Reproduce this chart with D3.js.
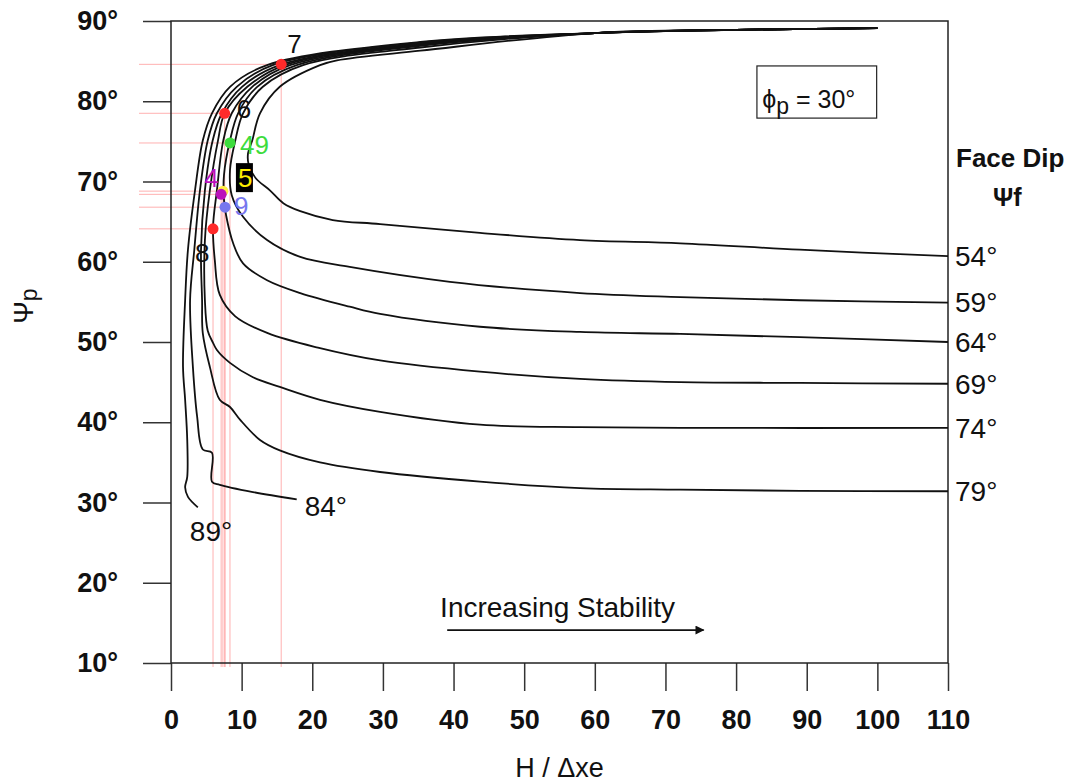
<!DOCTYPE html>
<html>
<head>
  <meta charset="utf-8">
  <title>Plane failure stability chart</title>
  <script src="https://d3js.org/d3.v7.min.js"></script>
  <style>
    body {
      margin: 0;
      background: #ffffff;
      font-family: "Liberation Sans", Arial, sans-serif;
    }
    .axis text {
      font-size: 27px;
      font-weight: 700;
      fill: #111;
    }
    .axis line {
      stroke: #333;
      stroke-width: 1.5;
    }
    .curve {
      fill: none;
      stroke: #111;
      stroke-width: 1.8;
    }
    .ref {
      stroke: #ffb0b0;
      stroke-width: 1;
    }
  </style>
</head>
<body>
  <div id="chart"></div>

  <script>
    // x = H / dxe, y = plane dip (deg)
    const xTicks = [0, 10, 20, 30, 40, 50, 60, 70, 80, 90, 100, 110];
    const yTicks = [10, 20, 30, 40, 50, 60, 70, 80, 90];

    // face dips, outermost curve first
    const faceDips = [89, 84, 79, 74, 69, 64, 59, 54];

    // shared upper end of every curve
    const topTail = [[100, 89.1], [80, 88.9], [60, 88.5]];

    const curve89 = [[35.3, 87.4], [13.6, 84.5], [8.35, 81.8], [5.8, 78.5], [4.5, 75.1], [3.4, 68.9],
      [2.4, 61.5], [2.0, 55.2], [1.7, 46.9], [2.0, 42.8], [2.3, 37.8], [2.3, 33.2], [2.0, 31.9],
      [2.4, 30.7], [3.8, 29.4]];
    const curve84 = [[35.3, 87.3], [14.4, 84.5], [9.3, 81.8], [6.5, 78.5], [5.2, 75.1], [4.1, 68.9],
      [3.3, 61.5], [2.7, 55.2], [3.1, 46.9], [3.7, 40.7], [4.5, 36.6], [5.8, 36.2], [5.8, 32.6],
      [6.9, 32.2], [11.6, 31.3], [17.8, 30.4]];
    const curve79 = [[35.3, 87.2], [15.4, 84.5], [10.05, 81.8], [7.2, 78.5], [5.9, 75.1], [4.8, 68.9],
      [4.25, 61.5], [4.4, 55.2], [4.5, 51.1], [5.5, 46.9], [6.9, 42.8], [8.35, 41.9], [9.8, 40.3],
      [12.6, 37.8], [15.4, 36.5], [21.1, 35.0], [29.6, 33.8], [43.75, 32.6], [57.9, 31.8],
      [72.1, 31.6], [89, 31.45], [110, 31.4]];
    const curve74 = [[35.3, 87.1], [16.1, 84.5], [10.8, 81.8], [7.6, 78.5], [6.65, 75.1], [5.5, 68.9],
      [4.8, 62.7], [4.8, 55.2], [5.2, 51.4], [5.95, 49.9], [6.5, 49.0], [8.35, 47.4], [11.6, 45.6],
      [15.4, 44.4], [21.1, 42.8], [29.6, 41.3], [43.75, 39.7], [57.9, 39.4], [72.1, 39.3],
      [110, 39.3]];
    const curve69 = [[35.3, 87.0], [16.85, 84.5], [11.5, 81.8], [8.6, 78.5], [7.4, 75.1], [6.5, 68.9],
      [5.95, 64.3], [6.2, 60.2], [6.9, 55.9], [9.1, 53.2], [13.7, 51.1], [20.8, 49.3], [29.6, 47.7],
      [43.75, 46.3], [57.9, 45.4], [72.1, 45.0], [89, 44.9], [110, 44.8]];
    const curve64 = [[35.3, 86.9], [17.8, 84.5], [12.2, 81.8], [9.5, 78.5], [8.35, 75.1], [7.5, 70.8],
      [7.5, 67.7], [7.8, 65.8], [8.8, 62.3], [10.2, 59.8], [13.6, 57.7], [18.3, 56.1], [25.3, 54.4],
      [29.6, 53.5], [43.75, 51.9], [57.9, 51.25], [72.1, 51.0], [89, 50.6], [110, 50.0]];
    const curve59 = [[35.3, 86.7], [18.7, 84.5], [13.0, 81.8], [10.2, 78.5], [9.1, 75.1], [8.35, 71.4],
      [8.6, 68.3], [10.2, 65.6], [13.6, 62.7], [18.3, 60.6], [25.3, 59.35], [39.5, 57.5],
      [57.9, 56.1], [72.1, 55.6], [89, 55.2], [110, 54.9]];
    const curve54 = [[35.3, 86.3], [23.5, 85.1], [21.1, 84.5], [15.4, 81.8], [12.6, 78.5], [11.5, 75.1],
      [10.9, 73.5], [11.0, 72.1], [12.0, 70.4], [14.0, 68.9], [15.9, 67.3], [18.3, 66.3], [22.9, 65.2],
      [29.6, 64.7], [43.75, 63.6], [57.9, 62.7], [72.1, 62.3], [89, 61.5], [110, 60.7]];

    const curves = [curve89, curve84, curve79, curve74, curve69, curve64, curve59, curve54];

    // marked cases
    const caseLabels = ['7', '6', '49', '5', '4', '9', '8'];
    const caseX = [15.6, 7.6, 8.35, 7.35, 7.1, 7.65, 5.95];
    const caseY = [84.6, 78.5, 74.8, 68.8, 68.4, 66.8, 64.1];

    const caseStyle = {
      '7':  { fill: '#ff2a2a', text: '#111', dx: 6,   dy: -11 },
      '6':  { fill: '#ff2a2a', text: '#111', dx: 12,  dy: 5 },
      '49': { fill: '#3ddc3d', text: '#3ddc3d', dx: 10, dy: 11 },
      '5':  { fill: '#ffee44', text: '#ffee00', dx: 15, dy: -4, box: true },
      '4':  { fill: '#bb11bb', text: '#bb11bb', dx: -17, dy: -7 },
      '9':  { fill: '#7777ee', text: '#7777ee', dx: 9,  dy: 8 },
      '8':  { fill: '#ff2a2a', text: '#111', dx: -18, dy: 33 }
    };

    const width = 1075, height = 783;
    const x = d3.scaleLinear().domain([0, 110]).range([171, 948]);
    const y = d3.scaleLinear().domain([10, 90]).range([663, 21]);

    const svg = d3.select('#chart').append('svg')
      .attr('width', width)
      .attr('height', height)
      .style('font-family', '"Liberation Sans", Arial, sans-serif');

    // pink reference lines for each case
    const cases = caseLabels.map((c, i) => ({ label: c, x: caseX[i], y: caseY[i] }));
    const refs = svg.append('g');
    cases.forEach(d => {
      refs.append('line').attr('class', 'ref')
        .attr('x1', x.range()[0] - 32).attr('x2', x(d.x))
        .attr('y1', y(d.y)).attr('y2', y(d.y));
      refs.append('line').attr('class', 'ref')
        .attr('x1', x(d.x)).attr('x2', x(d.x))
        .attr('y1', y(d.y)).attr('y2', y.range()[0] + 4);
    });

    // axes
    svg.append('g')
      .attr('class', 'axis')
      .attr('transform', `translate(0,${y.range()[0]})`)
      .call(d3.axisBottom(x).tickValues(xTicks).tickSize(28).tickSizeOuter(0).tickPadding(19))
      .call(g => g.select('.domain').remove());

    svg.append('g')
      .attr('class', 'axis')
      .attr('transform', `translate(${x.range()[0]},0)`)
      .call(d3.axisLeft(y).tickValues(yTicks).tickSize(28).tickSizeOuter(0).tickPadding(25)
        .tickFormat(d => d + '°'))
      .call(g => g.select('.domain').remove());

    // frame
    svg.append('rect')
      .attr('x', x(0)).attr('y', y(90))
      .attr('width', x(110) - x(0)).attr('height', y(10) - y(90))
      .attr('fill', 'none').attr('stroke', '#222').attr('stroke-width', 1.5);

    // curves
    const line = d3.line()
      .x(d => x(d[0]))
      .y(d => y(d[1]))
      .curve(d3.curveCatmullRom.alpha(0.5));

    svg.append('g').selectAll('path')
      .data(curves)
      .join('path')
      .attr('class', 'curve')
      .attr('d', d => line(topTail.concat(d)));

    // face dip labels
    const labelG = svg.append('g').style('font-size', '28px').attr('fill', '#111');
    curves.forEach((c, i) => {
      const last = c[c.length - 1];
      let lx = x(last[0]) + 7, ly = y(last[1]);
      if (faceDips[i] === 84) { lx = x(last[0]) + 8; ly = y(last[1]) + 7; }
      if (faceDips[i] === 89) { lx = x(last[0]) - 8; ly = y(last[1]) + 24; }
      labelG.append('text')
        .attr('x', lx).attr('y', ly).attr('dy', '0.35em')
        .text(faceDips[i] + '°');
    });

    // case points and labels
    const caseG = svg.append('g');
    cases.forEach(d => {
      const s = caseStyle[d.label];
      caseG.append('circle')
        .attr('cx', x(d.x)).attr('cy', y(d.y))
        .attr('r', 5.5).attr('fill', s.fill);
    });
    cases.forEach(d => {
      const s = caseStyle[d.label];
      const tx = x(d.x) + s.dx, ty = y(d.y) + s.dy;
      if (s.box) {
        caseG.append('rect')
          .attr('x', tx - 2).attr('y', ty - 24)
          .attr('width', 17).attr('height', 29)
          .attr('fill', '#000');
      }
      caseG.append('text')
        .attr('x', tx).attr('y', ty)
        .attr('fill', s.text)
        .style('font-size', '26px')
        .text(d.label);
    });

    // legend box
    const lg = svg.append('g');
    lg.append('rect')
      .attr('x', x(82.95)).attr('y', y(84.4))
      .attr('width', x(99.9) - x(82.95)).attr('height', y(77.9) - y(84.4))
      .attr('fill', '#fff').attr('stroke', '#222').attr('stroke-width', 1.2);
    const lt = lg.append('text')
      .attr('x', x(83.7)).attr('y', y(79.1))
      .style('font-size', '25px').attr('fill', '#111');
    lt.append('tspan').text('ϕ');
    lt.append('tspan').attr('dy', 6).style('font-size', '23px').text('p');
    lt.append('tspan').attr('dy', -6).text(' = 30°');

    // right side heading
    svg.append('text')
      .attr('x', x(110) + 8).attr('y', 167)
      .style('font-size', '26px').style('font-weight', 700).attr('fill', '#111')
      .text('Face Dip');
    const psf = svg.append('text')
      .attr('x', x(110) + 45).attr('y', 206)
      .style('font-size', '25px').style('font-weight', 700).attr('fill', '#111');
    psf.append('tspan').text('Ψ');
    psf.append('tspan').text('f');

    // stability arrow
    svg.append('defs').append('marker')
      .attr('id', 'arrow').attr('viewBox', '0 0 10 10')
      .attr('refX', 9).attr('refY', 5)
      .attr('markerWidth', 12).attr('markerHeight', 9)
      .attr('markerUnits', 'userSpaceOnUse')
      .attr('orient', 'auto')
      .append('path').attr('d', 'M0,0 L10,5 L0,10 Z').attr('fill', '#111');
    svg.append('text')
      .attr('x', x(38.1)).attr('y', y(15.7))
      .style('font-size', '28px').attr('fill', '#111')
      .text('Increasing Stability');
    svg.append('line')
      .attr('x1', x(39.1)).attr('x2', x(75.4))
      .attr('y1', y(14.1)).attr('y2', y(14.1))
      .attr('stroke', '#111').attr('stroke-width', 1.8)
      .attr('marker-end', 'url(#arrow)');

    // axis titles
    svg.append('text')
      .attr('x', (x(0) + x(110)) / 2).attr('y', 777)
      .attr('text-anchor', 'middle')
      .style('font-size', '27px').attr('fill', '#111')
      .text('H / Δxe');

    const yt = svg.append('text')
      .attr('transform', 'translate(33,306) rotate(-90)')
      .attr('text-anchor', 'middle')
      .style('font-size', '27px').attr('fill', '#111');
    yt.append('tspan').text('Ψ');
    yt.append('tspan').attr('dy', 4).style('font-size', '23px').text('p');
  </script>
</body>
</html>
